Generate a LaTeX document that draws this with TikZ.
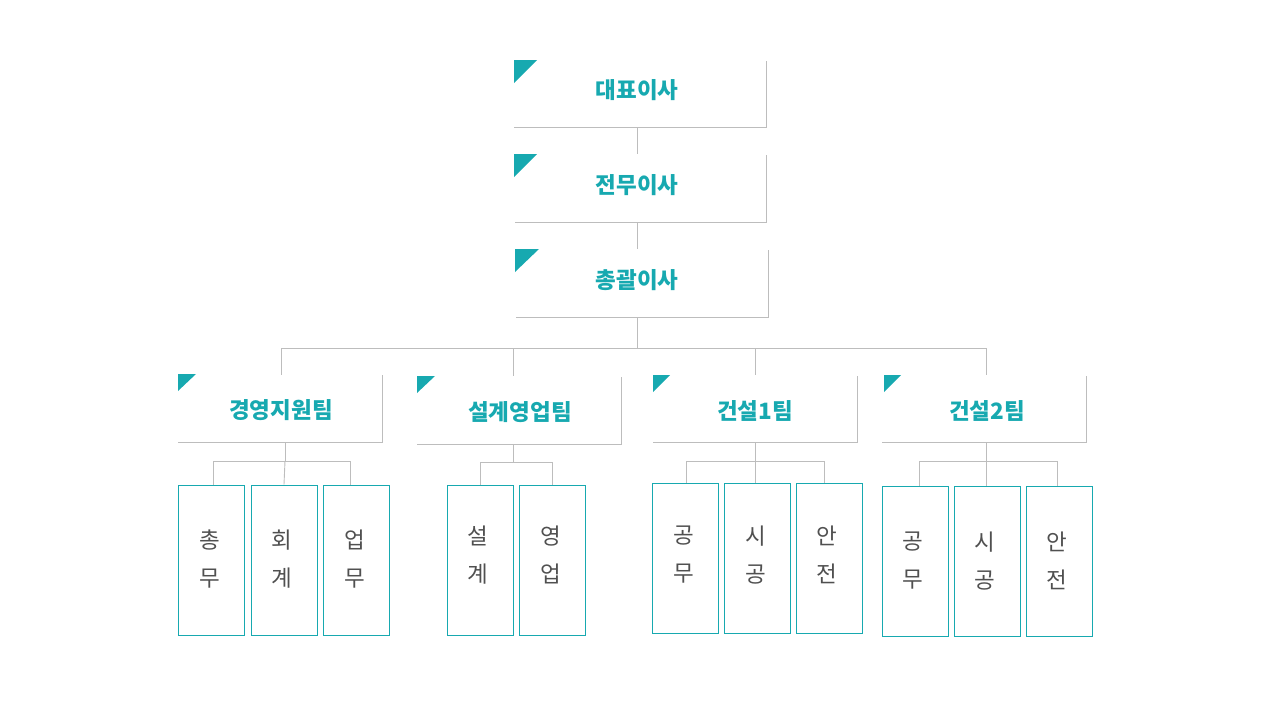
\documentclass[tikz,border=0pt]{standalone}
\usepackage{fontspec}
\setmainfont{Noto Sans CJK KR}
\definecolor{teal1}{HTML}{17A9B0}
\definecolor{lgray}{HTML}{BDBDBD}
\definecolor{tgray}{HTML}{505050}
\begin{document}
\begin{tikzpicture}[x=1pt,y=-1pt,
  conn/.style={draw=lgray,line width=0.9pt},
  boxline/.style={draw=lgray,line width=0.9pt},
  title/.style={font=\fontsize{22.5}{26}\selectfont\bfseries,text=teal1,inner sep=0pt},
  tri/.style={fill=teal1},
  subbox/.style={draw=teal1,line width=0.9pt,minimum width=66pt,minimum height=150pt,inner sep=0pt},
  subtext/.style={font=\fontsize{22.5}{38}\selectfont,text=tgray,align=center,inner sep=0pt}]
\useasboundingbox (0,0) rectangle (1280,720);
% box 1
\coordinate (b1bl) at (514,127); \coordinate (b1br) at (766,127); \coordinate (b1tr) at (766,61);
\draw[boxline] (b1bl) -- (b1br) -- (b1tr);
\fill[tri] (514,60) -- (537,60) -- (514,83) -- cycle;
\node[title] (t1) at (637,90) {대표이사};
% box 2
\coordinate (b2bl) at (515,222); \coordinate (b2br) at (766,222); \coordinate (b2tr) at (766,155);
\draw[boxline] (b2bl) -- (b2br) -- (b2tr);
\fill[tri] (514,154) -- (537,154) -- (514,177) -- cycle;
\node[title] (t2) at (637,185) {전무이사};
% box 3
\coordinate (b3bl) at (516,317); \coordinate (b3br) at (768,317); \coordinate (b3tr) at (768,250);
\draw[boxline] (b3bl) -- (b3br) -- (b3tr);
\fill[tri] (515,249) -- (539,249) -- (515,272) -- cycle;
\node[title] (t3) at (637,280) {총괄이사};
% chain connectors
\coordinate (c1a) at (637,127); \coordinate (c1b) at (637,154);
\coordinate (c2a) at (637,222); \coordinate (c2b) at (637,249);
\coordinate (c3a) at (637,317); \coordinate (c3b) at (637,348);
\draw[conn] (c1a) -- (c1b);
\draw[conn] (c2a) -- (c2b);
\draw[conn] (c3a) -- (c3b);
% horizontal bus
\coordinate (h1) at (281,348); \coordinate (h2) at (986,348);
\draw[conn] (h1) -- (h2);
\coordinate (d1) at (281,375); \coordinate (d2) at (513,376);
\coordinate (d3) at (755,375); \coordinate (d4) at (986,375);
\draw[conn] (h1) -- (d1);
\draw[conn] (513,348) -- (d2);
\draw[conn] (755,348) -- (d3);
\draw[conn] (h2) -- (d4);
% team boxes
\draw[boxline] (178,442) -- (382,442) -- (382,375);
\fill[tri] (178,374) -- (196,374) -- (178,391) -- cycle;
\node[title] (g1) at (281,410) {경영지원팀};
\draw[boxline] (417,444) -- (621,444) -- (621,377);
\fill[tri] (417,376) -- (435,376) -- (417,393) -- cycle;
\node[title] (g2) at (520,412) {설계영업팀};
\draw[boxline] (653,442) -- (857,442) -- (857,376);
\fill[tri] (653,375) -- (670,375) -- (653,392) -- cycle;
\node[title] (g3) at (755,411) {건설1팀};
\draw[boxline] (882,442) -- (1086,442) -- (1086,376);
\fill[tri] (884,375) -- (901,375) -- (884,392) -- cycle;
\node[title] (g4) at (987,411) {건설2팀};
% sub boxes group 1
\node[subbox] (s11) at (211.5,560) {};
\node[subbox] (s12) at (284,560) {};
\node[subbox] (s13) at (356,560) {};
\node[subtext] at (210,559) {총\\무};
\node[subtext] at (282,559) {회\\계};
\node[subtext] at (355,559) {업\\무};
\draw[conn] (285,442) -- (285,461);
\draw[conn] (213,485) |- (350,461) -- (350,485);
\draw[conn] (285,461) -- (s12.north);
% group 2
\node[subbox] (s21) at (480,560) {};
\node[subbox] (s22) at (552,560) {};
\node[subtext] at (478,555) {설\\계};
\node[subtext] at (551,555) {영\\업};
\draw[conn] (513,444) -- (513,462);
\draw[conn] (480,485) |- (552,462) -- (s22.north);
% group 3
\node[subbox] (s31) at (685,558) {};
\node[subbox] (s32) at (757,558) {};
\node[subbox] (s33) at (829,558) {};
\node[subtext] at (684,555) {공\\무};
\node[subtext] at (756,555) {시\\공};
\node[subtext] at (827,555) {안\\전};
\draw[conn] (755,442) -- (755,483);
\draw[conn] (686,483) |- (824,461) -- (824,483);
% group 4
\node[subbox] (s41) at (915,561) {};
\node[subbox] (s42) at (987.5,561) {};
\node[subbox] (s43) at (1059.5,561) {};
\node[subtext] at (913,561) {공\\무};
\node[subtext] at (985,561) {시\\공};
\node[subtext] at (1057,561) {안\\전};
\draw[conn] (986,442) -- (986,486);
\draw[conn] (919,486) |- (1057,461) -- (1057,486);
\end{tikzpicture}
\end{document}
